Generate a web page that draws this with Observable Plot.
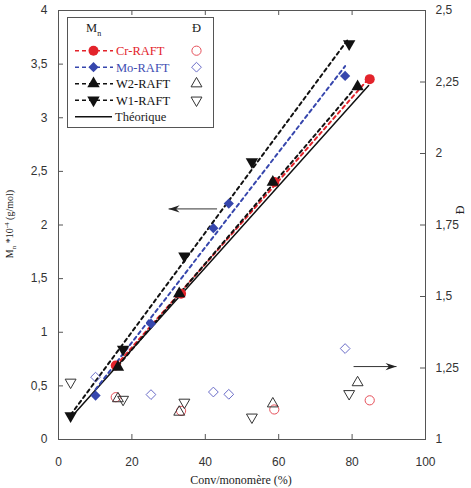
<!DOCTYPE html>
<html>
<head>
<meta charset="utf-8">
<script src="https://cdn.jsdelivr.net/npm/d3@7"></script>
<script src="https://cdn.jsdelivr.net/npm/@observablehq/plot@0.6"></script>
<style>
  html, body { margin: 0; padding: 0; background: #fff; }
  #chart svg { display: block; }
</style>
</head>
<body>
<div id="chart"></div>
<script>
// Conversion (%) and Mn (x10^4 g/mol) / dispersity for each RAFT agent
const crX  = [15.6, 33.4, 58.8, 84.8];
const crMn = [0.69, 1.36, 2.40, 3.36];
const crD  = [1.148, 1.100, 1.105, 1.137];

const moX  = [10.1, 25.2, 42.2, 46.4, 78.1];
const moMn = [0.41, 1.08, 1.97, 2.20, 3.39];
const moD  = [1.218, 1.157, 1.166, 1.158, 1.318];

const w2X  = [16.2, 32.9, 58.4, 81.5];
const w2Mn = [0.675, 1.36, 2.40, 3.29];
const w2D  = [1.143, 1.096, 1.125, 1.199];

const w1X  = [3.3, 17.6, 34.3, 52.7, 79.2];
const w1Mn = [0.22, 0.84, 1.71, 2.59, 3.69];
const w1D  = [1.20, 1.14, 1.13, 1.078, 1.16];

// Theoretical Mn line
const theoX  = [3.5, 84.5];
const theoMn = [0.21, 3.30];

// Axis ticks
const xTicks = [0, 20, 40, 60, 80, 100];
const yTicks = [0, 0.5, 1, 1.5, 2, 2.5, 3, 3.5, 4];
const dTicks = [1, 1.25, 1.5, 1.75, 2, 2.25, 2.5];

// Direction arrows (which axis each set of points belongs to)
const arrowX1 = [43.2, 80.4];
const arrowX2 = [30.0, 92.1];
const arrowY  = [2.15, 0.68];

const seriesNames = ["Cr-RAFT", "Mo-RAFT", "W2-RAFT", "W1-RAFT"];
const seriesX  = [crX, moX, w2X, w1X];
const seriesMn = [crMn, moMn, w2Mn, w1Mn];
const seriesD  = [crD, moD, w2D, w1D];

// Styles
const styles = {
  "Cr-RAFT": {color: "#e3232b", open: "#e6505a", symbol: "circle", openSymbol: "circle", rotate: 0, r: 5, ro: 4.6, text: "#e3232b"},
  "Mo-RAFT": {color: "#3646ad", open: "#6a6cc8", symbol: "diamond2", openSymbol: "diamond2", rotate: 0, r: 4.6, ro: 4.4, text: "#3e4eb2"},
  "W2-RAFT": {color: "#111", open: "#333", symbol: "triangle", openSymbol: "triangle2", rotate: 0, r: 4.6, ro: 5.2, text: "#111"},
  "W1-RAFT": {color: "#111", open: "#333", symbol: "triangle", openSymbol: "triangle2", rotate: 180, r: 4.6, ro: 5.2, text: "#111"}
};

// Dispersity (right axis 1–2.5) is drawn on the Mn scale (0–4)
const dMin = 1, dMax = 2.5, yMax = 4;
const toLeft = d => (d - dMin) / (dMax - dMin) * yMax;
const fmt = v => String(+(+v).toFixed(2)).replace(".", ",");

const rows = seriesNames.flatMap((name, i) =>
  seriesX[i].map((x, j) => ({name, x, mn: seriesMn[i][j], d: seriesD[i][j]})));
const theo = theoX.map((x, i) => ({x, mn: theoMn[i]}));
const arrows = arrowX1.map((x1, i) => ({x1, x2: arrowX2[i], y: arrowY[i], rot: arrowX2[i] < x1 ? 180 : 0}));

// Concave arrowhead with its tip at the origin, pointing right
const arrowHead = {
  draw(ctx) {
    ctx.moveTo(0, 0);
    ctx.lineTo(-11, -3.6);
    ctx.lineTo(-7.5, 0);
    ctx.lineTo(-11, 3.6);
    ctx.closePath();
  }
};

const W = 471, H = 488;
const mL = 58, mR = 46, mT = 10, mB = 49;
const FW = W - mL - mR, FH = H - mT - mB;
const axisColor = "#555";

const marks = [
  Plot.frame({stroke: axisColor}),
  Plot.tickX(xTicks, {x: d => d, insetTop: FH - 5, stroke: axisColor}),
  Plot.tickX(xTicks, {x: d => d, insetBottom: FH - 5, stroke: axisColor}),
  Plot.tickY(yTicks, {y: d => d, insetRight: FW - 5, stroke: axisColor}),
  Plot.tickY(dTicks, {y: toLeft, insetLeft: FW - 5, stroke: axisColor}),
  Plot.axisX(xTicks, {tickSize: 0, tickPadding: 18, label: null, tickFormat: fmt}),
  Plot.axisY(yTicks, {anchor: "left", tickSize: 0, tickPadding: 11, label: null, tickFormat: fmt}),
  Plot.text(dTicks, {y: toLeft, text: fmt, frameAnchor: "right", textAnchor: "start", dx: 10}),
  // theoretical line
  Plot.line(theo, {x: "x", y: "mn", stroke: "#111", strokeWidth: 1.5})
];

// dashed linear fits of Mn vs conversion
seriesNames.forEach(name => {
  const s = styles[name];
  marks.push(Plot.linearRegressionY(rows.filter(r => r.name === name), {
    x: "x", y: "mn", ci: 0, stroke: s.color, strokeWidth: 2, strokeDasharray: "3.5,3.5"
  }));
});

// open symbols: dispersity
seriesNames.forEach(name => {
  const s = styles[name];
  marks.push(Plot.dot(rows.filter(r => r.name === name), {
    x: "x", y: d => toLeft(d.d), symbol: s.openSymbol, rotate: s.rotate, r: s.ro,
    stroke: s.open, strokeWidth: 1, fill: "none"
  }));
});

// filled symbols: Mn
seriesNames.forEach(name => {
  const s = styles[name];
  marks.push(Plot.dot(rows.filter(r => r.name === name), {
    x: "x", y: "mn", symbol: s.symbol, rotate: s.rotate, r: s.r,
    fill: s.color, stroke: "none"
  }));
});

// arrows
marks.push(Plot.link(arrows, {x1: "x1", x2: "x2", y1: "y", y2: "y", stroke: "#333", strokeWidth: 1}));
marks.push(Plot.dot(arrows, {x: "x2", y: "y", symbol: arrowHead, rotate: "rot", fill: "#222", stroke: "none"}));

const chart = Plot.plot({
  width: W, height: H,
  marginLeft: mL, marginRight: mR, marginTop: mT, marginBottom: mB,
  style: {fontFamily: "'Liberation Sans', Arial, sans-serif", fontSize: "12px", color: "#333", background: "#fff", overflow: "visible"},
  x: {domain: [0, 100]},
  y: {domain: [0, yMax]},
  marks
});
document.getElementById("chart").appendChild(chart);

// axis titles and legend
const svg = d3.select(chart);
const serif = "'Liberation Serif', 'Times New Roman', serif";

svg.append("text")
  .attr("x", 241).attr("y", 484)
  .attr("text-anchor", "middle")
  .attr("font-family", serif).attr("font-size", 12).attr("fill", "#222")
  .text("Conv/monomère (%)");

const yl = svg.append("text")
  .attr("transform", "translate(13,224) rotate(-90)")
  .attr("text-anchor", "middle")
  .attr("font-family", serif).attr("font-size", 10).attr("fill", "#222");
yl.append("tspan").text("M");
yl.append("tspan").attr("dy", 3).attr("font-size", 7).text("n");
yl.append("tspan").attr("dy", -3).text(" *10");
yl.append("tspan").attr("dy", -4.5).attr("font-size", 7).text("-4");
yl.append("tspan").attr("dy", 4.5).text(" (g/mol)");

svg.append("text")
  .attr("transform", "translate(464,210) rotate(-90)")
  .attr("text-anchor", "middle")
  .attr("font-family", serif).attr("font-size", 12).attr("fill", "#222")
  .text("Đ");

const lg = svg.append("g").attr("text-anchor", "start");
lg.append("rect")
  .attr("x", 67.5).attr("y", 17.5).attr("width", 146).attr("height", 110)
  .attr("fill", "#fff").attr("stroke", axisColor);

const hdr = lg.append("text").attr("x", 86).attr("y", 32)
  .attr("font-family", serif).attr("font-size", 12.5).attr("fill", "#222");
hdr.append("tspan").text("M");
hdr.append("tspan").attr("dy", 4).attr("font-size", 8).text("n");
lg.append("text").attr("x", 192).attr("y", 32)
  .attr("font-family", serif).attr("font-size", 12.5).attr("fill", "#222").text("Đ");

const d3sym = {circle: d3.symbolCircle, diamond2: d3.symbolDiamond2, triangle: d3.symbolTriangle, triangle2: d3.symbolTriangle2};
const rowY0 = 50.7, rowStep = 16.5;
seriesNames.forEach((name, i) => {
  const s = styles[name];
  const y = rowY0 + i * rowStep;
  lg.append("line").attr("x1", 75).attr("x2", 113).attr("y1", y).attr("y2", y)
    .attr("stroke", s.color).attr("stroke-width", 1.5).attr("stroke-dasharray", "4,3");
  lg.append("path")
    .attr("d", d3.symbol(d3sym[s.symbol], Math.PI * s.r * s.r)())
    .attr("transform", `translate(93.5,${y}) rotate(${s.rotate})`)
    .attr("fill", s.color);
  lg.append("text").attr("x", 116).attr("y", y + 4.3)
    .attr("font-family", serif).attr("font-size", 12.5).attr("fill", s.text).text(name);
  lg.append("path")
    .attr("d", d3.symbol(d3sym[s.openSymbol], Math.PI * s.ro * s.ro)())
    .attr("transform", `translate(196.5,${y}) rotate(${s.rotate})`)
    .attr("fill", "none").attr("stroke", s.open).attr("stroke-width", 1);
});
const ty = rowY0 + 4 * rowStep;
lg.append("line").attr("x1", 75).attr("x2", 112).attr("y1", ty).attr("y2", ty)
  .attr("stroke", "#111").attr("stroke-width", 1.5);
lg.append("text").attr("x", 115).attr("y", ty + 4.3)
  .attr("font-family", serif).attr("font-size", 12.5).attr("fill", "#222").text("Théorique");
</script>
</body>
</html>
